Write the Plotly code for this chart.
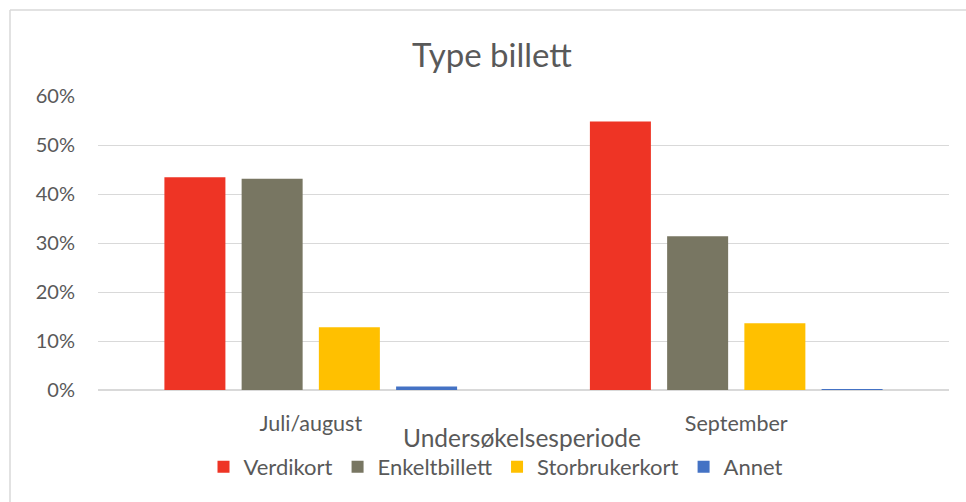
import plotly.graph_objects as go

# Survey periods and ticket-type shares
categories = ["Juli/august", "September"]
verdikort = [0.434, 0.548]
enkeltbillett = [0.431, 0.314]
storbrukerkort = [0.128, 0.136]
annet = [0.007, 0.002]

series_names = ["Verdikort", "Enkeltbillett", "Storbrukerkort", "Annet"]
series_values = [verdikort, enkeltbillett, storbrukerkort, annet]
series_colors = ["#EE3425", "#787662", "#FFC000", "#4472C4"]

TEXT = "#595959"
GRID = "#D9D9D9"
FONT = "Lato"

W, H = 966, 502
L, R, T, B = 98, 17, 96, 112
plot_w = W - L - R
plot_h = H - T - B


def px_x(x):
    return (x - L) / plot_w


def px_y(y):
    return (H - B - y) / plot_h


fig = go.Figure()
for name, vals, col in zip(series_names, series_values, series_colors):
    fig.add_trace(go.Bar(
        name=name, x=categories, y=vals,
        marker=dict(color=col, line=dict(width=0)),
    ))

fig.update_layout(
    width=W, height=H,
    margin=dict(l=L, r=R, t=T, b=B, pad=0),
    paper_bgcolor="white", plot_bgcolor="white",
    barmode="group", bargap=0.274, bargroupgap=0.21,
    font=dict(family=FONT, color=TEXT, size=20),
    title=dict(
        text="Type billett", x=492 / W, xanchor="center", xref="container",
        y=1 - 55 / H, yanchor="middle", yref="container",
        font=dict(family=FONT, size=33, color=TEXT),
    ),
    xaxis=dict(
        showgrid=False, showline=False, zeroline=False, ticks="",
        tickfont=dict(size=21.5, color=TEXT), ticklabelstandoff=18,
    ),
    yaxis=dict(
        range=[0, 0.6], dtick=0.1, tickformat=".0%",
        showgrid=True, gridcolor=GRID, gridwidth=1.3,
        zeroline=True, zerolinecolor=GRID, zerolinewidth=2,
        showline=False, ticks="",
        tickfont=dict(size=20, color=TEXT), ticklabelstandoff=22,
    ),
    legend=dict(
        orientation="h", x=px_x(496), xanchor="center",
        y=px_y(467), yanchor="middle",
        font=dict(size=22, color=TEXT), itemwidth=30,
        traceorder="normal",
    ),
    showlegend=True,
)

# Axis title
fig.add_annotation(
    text="Undersøkelsesperiode", xref="paper", yref="paper",
    x=px_x(522), y=px_y(437), xanchor="center", yanchor="middle",
    showarrow=False, font=dict(family=FONT, size=24.5, color=TEXT),
)

# Chart frame (top and left edges)
fig.add_shape(type="line", xref="paper", yref="paper",
              x0=px_x(10), x1=px_x(W + 2), y0=px_y(10), y1=px_y(10),
              line=dict(color=GRID, width=1.5))
fig.add_shape(type="line", xref="paper", yref="paper",
              x0=px_x(10), x1=px_x(10), y0=px_y(10), y1=px_y(H + 2),
              line=dict(color=GRID, width=1.5))

fig.write_html("out.html")
